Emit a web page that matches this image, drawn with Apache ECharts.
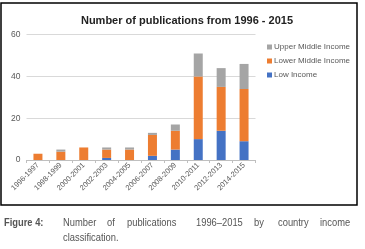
<!DOCTYPE html>
<html>
<head>
<meta charset="utf-8">
<script src="https://cdn.jsdelivr.net/npm/echarts@6/dist/echarts.min.js"></script>
<style>
  html, body { margin: 0; padding: 0; background: #fff; }
  #chart { width: 365px; height: 249px; }
</style>
</head>
<body>
<div id="chart"></div>
<script>
var periods = ['1996-1997', '1998-1999', '2000-2001', '2002-2003', '2004-2005',
               '2006-2007', '2008-2009', '2010-2011', '2012-2013', '2014-2015'];
var lowIncome = [0, 0, 0, 1, 0, 2, 5, 10, 14, 9];
var lowerMiddle = [3, 4, 6, 4, 5, 10, 9, 30, 21, 25];
var upperMiddle = [0, 1, 0, 1, 1, 1, 3, 11, 9, 12];
var yTicks = [0, 20, 40, 60];

var chart = echarts.init(document.getElementById('chart'));

var captionFont = '11px "Liberation Sans", Arial, sans-serif';
// caption words placed one by one to mimic justified, condensed text
var captionWords = [
  ['Number', 63], ['of', 107], ['publications', 127], ['1996\u20132015', 196],
  ['by', 254], ['country', 278], ['income', 320]
];
var graphics = [
  {
    type: 'rect',
    shape: { x: 1, y: 3, width: 356, height: 202 },
    style: { fill: 'none', stroke: '#000', lineWidth: 1.5 },
    silent: true
  },
  {
    type: 'text', x: 4, y: 217, scaleX: 0.85,
    style: { text: 'Figure 4:', font: 'bold ' + captionFont, fill: '#555' }
  },
  {
    type: 'text', x: 63, y: 232, scaleX: 0.85,
    style: { text: 'classification.', font: captionFont, fill: '#555' }
  }
];
captionWords.forEach(function (w) {
  graphics.push({
    type: 'text', x: w[1], y: 217, scaleX: 0.85,
    style: { text: w[0], font: captionFont, fill: '#555' }
  });
});

var option = {
  animation: false,
  title: {
    text: 'Number of publications from 1996 - 2015',
    left: 182,
    textAlign: 'center',
    top: 10,
    textStyle: { fontSize: 11, fontWeight: 'bold', color: '#222', fontFamily: 'Liberation Sans, Arial, sans-serif' }
  },
  legend: {
    orient: 'vertical',
    left: 262,
    top: 38,
    itemWidth: 5,
    itemHeight: 5,
    itemGap: 6,
    icon: 'rect',
    data: ['Upper Middle Income', 'Lower Middle Income', 'Low Income'],
    textStyle: { fontSize: 8, color: '#595959', padding: [0, 0, 0, -3], fontFamily: 'Liberation Sans, Arial, sans-serif' }
  },
  grid: { left: 26.5, right: 109.5, top: 34.7, bottom: 89 },
  xAxis: {
    type: 'category',
    data: periods,
    axisLine: { lineStyle: { color: '#bfbfbf' } },
    axisTick: { show: true, length: 3, lineStyle: { color: '#bfbfbf' } },
    axisLabel: { rotate: 45, fontSize: 7.5, color: '#595959', margin: 4, interval: 0, fontFamily: 'Liberation Sans, Arial, sans-serif' }
  },
  yAxis: {
    type: 'value',
    min: yTicks[0],
    max: yTicks[yTicks.length - 1],
    interval: 20,
    axisLine: { show: false },
    axisTick: { show: false },
    splitLine: { lineStyle: { color: '#d9d9d9' } },
    axisLabel: { fontSize: 8.5, color: '#595959', margin: 6, fontFamily: 'Liberation Sans, Arial, sans-serif' }
  },
  series: [
    { name: 'Low Income', type: 'bar', stack: 'total', data: lowIncome, barWidth: 9, itemStyle: { color: '#4472C4' } },
    { name: 'Lower Middle Income', type: 'bar', stack: 'total', data: lowerMiddle, itemStyle: { color: '#ED7D31' } },
    { name: 'Upper Middle Income', type: 'bar', stack: 'total', data: upperMiddle, itemStyle: { color: '#A5A5A5' } }
  ],
  graphic: graphics
};

chart.setOption(option);
</script>
</body>
</html>
